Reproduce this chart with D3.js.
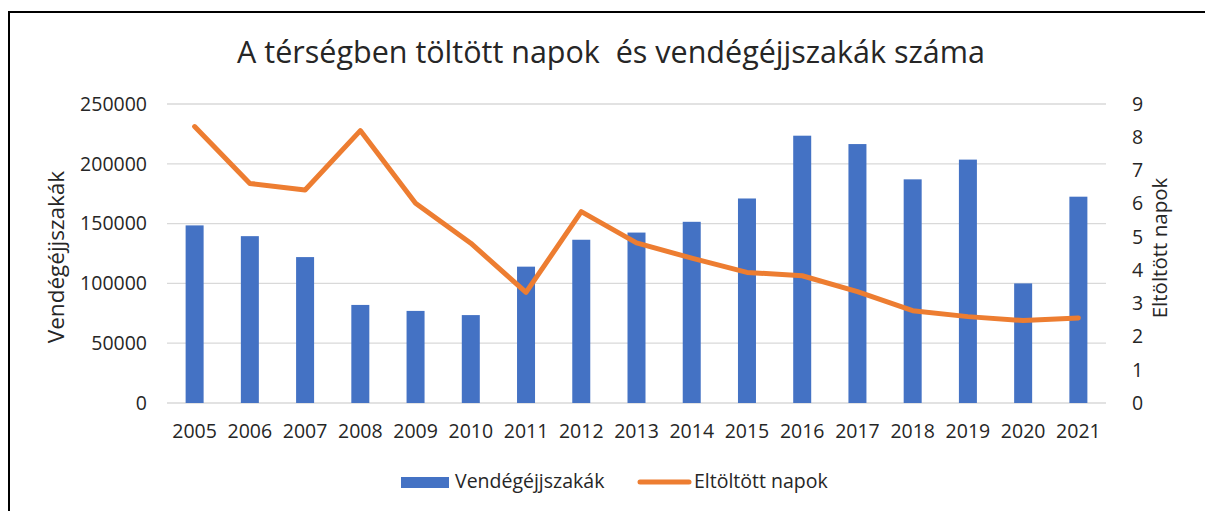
<!DOCTYPE html>
<html lang="hu">
<head>
<meta charset="UTF-8">
<title>Vendégéjjszakák</title>
<script src="https://d3js.org/d3.v7.min.js"></script>
<style>
  body { margin: 0; background: white; }
  svg text { font-family: "Open Sans", "Liberation Sans", sans-serif; fill: #262626; }
</style>
</head>
<body>
<svg id="chart"></svg>
<script>
const years = ["2005","2006","2007","2008","2009","2010","2011","2012","2013","2014","2015","2016","2017","2018","2019","2020","2021"];
const nights = [148500, 139500, 122000, 82000, 77000, 73500, 114000, 136500, 142500, 151500, 171000, 223500, 216500, 187000, 203500, 100000, 172500];
const days = [8.32, 6.61, 6.41, 8.20, 6.01, 4.81, 3.33, 5.76, 4.82, 4.36, 3.93, 3.83, 3.35, 2.78, 2.60, 2.48, 2.56];
const leftTicks = [0, 50000, 100000, 150000, 200000, 250000];
const rightTicks = [0, 1, 2, 3, 4, 5, 6, 7, 8, 9];

const w = 1205, h = 511;
const plotLeft = 167, plotRight = 1106, plotTop = 104, plotBottom = 403;

const svg = d3.select("#chart").attr("width", w).attr("height", h);

// frame (only top and left edges visible in crop)
svg.append("path")
   .attr("d", `M9,${h} L9,12 L${w},12`)
   .attr("fill", "none").attr("stroke", "black").attr("stroke-width", 2);

const x = d3.scaleBand().domain(years).range([plotLeft, plotRight]);
const yL = d3.scaleLinear().domain([0, 250000]).range([plotBottom, plotTop]);
const yR = d3.scaleLinear().domain([0, 9]).range([plotBottom, plotTop]);

// gridlines
svg.append("g").selectAll("line").data(leftTicks).enter().append("line")
   .attr("x1", plotLeft).attr("x2", plotRight)
   .attr("y1", d => yL(d)).attr("y2", d => yL(d))
   .attr("stroke", "#d9d9d9").attr("stroke-width", 1.3);

// left axis
const axL = svg.append("g").attr("transform", `translate(${plotLeft},0)`)
   .call(d3.axisLeft(yL).tickValues(leftTicks).tickSize(0).tickPadding(20).tickFormat(d3.format("d")));
axL.select(".domain").remove();
axL.selectAll("text").style("font-size", "19.5px");

// right axis
const axR = svg.append("g").attr("transform", `translate(${plotRight},0)`)
   .call(d3.axisRight(yR).tickValues(rightTicks).tickSize(0).tickPadding(26));
axR.select(".domain").remove();
axR.selectAll("text").style("font-size", "19.5px");

// x axis
const axX = svg.append("g").attr("transform", `translate(0,${plotBottom})`)
   .call(d3.axisBottom(x).tickSize(0).tickPadding(21));
axX.select(".domain").remove();
axX.selectAll("text").style("font-size", "19.5px");

// bars
const bw = 18;
svg.append("g").selectAll("rect").data(nights).enter().append("rect")
   .attr("x", (d, i) => x(years[i]) + x.bandwidth() / 2 - bw / 2)
   .attr("y", d => yL(d))
   .attr("width", bw)
   .attr("height", d => plotBottom - yL(d))
   .attr("fill", "#4472C4");

// line
const line = d3.line()
   .x((d, i) => x(years[i]) + x.bandwidth() / 2)
   .y(d => yR(d));
svg.append("path").datum(days)
   .attr("d", line)
   .attr("fill", "none").attr("stroke", "#ED7D31")
   .attr("stroke-width", 5).attr("stroke-linejoin", "round").attr("stroke-linecap", "round");

// title
svg.append("text").attr("x", 611).attr("y", 63)
   .attr("text-anchor", "middle").style("font-size", "30.5px")
   .text("A térségben töltött napok\u00a0 és vendégéjjszakák száma");

// axis titles
svg.append("text").attr("transform", "translate(64,257) rotate(-90)")
   .attr("text-anchor", "middle").style("font-size", "22.5px")
   .text("Vendégéjjszakák");
svg.append("text").attr("transform", "translate(1167,248) rotate(-90)")
   .attr("text-anchor", "middle").style("font-size", "20.5px")
   .text("Eltöltött napok");

// legend
const lg = svg.append("g");
lg.append("rect").attr("x", 401).attr("y", 477).attr("width", 48).attr("height", 11).attr("fill", "#4472C4");
lg.append("text").attr("x", 455).attr("y", 488).style("font-size", "19.5px").text("Vendégéjjszakák");
lg.append("line").attr("x1", 640).attr("x2", 689).attr("y1", 482).attr("y2", 482)
  .attr("stroke", "#ED7D31").attr("stroke-width", 5).attr("stroke-linecap", "round");
lg.append("text").attr("x", 694).attr("y", 488).style("font-size", "19.5px").text("Eltöltött napok");
</script>
</body>
</html>
